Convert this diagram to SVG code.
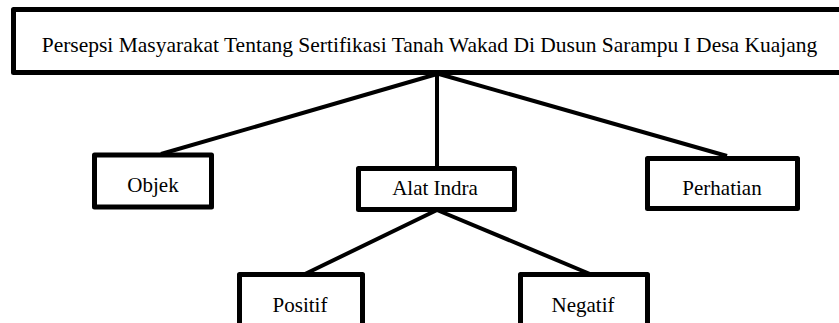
<svg xmlns="http://www.w3.org/2000/svg" width="839" height="323" viewBox="0 0 839 323">
<style>
.box{fill:#fff;stroke:#000;stroke-width:5;stroke-linejoin:round}
.lbl{font-family:"Liberation Serif","Times New Roman",serif;font-size:21px;fill:#000;text-anchor:middle}
.title{font-size:21.5px}
.con{stroke:#000;stroke-width:4;fill:none;stroke-linecap:butt}
</style>
<rect width="839" height="323" fill="#fff"/>
<g id="connectors">
<line class="con" x1="437" y1="74" x2="161" y2="154"/>
<line class="con" x1="437" y1="74" x2="437" y2="167"/>
<line class="con" x1="439" y1="74" x2="727" y2="156"/>
<line class="con" x1="437" y1="210" x2="305" y2="274"/>
<line class="con" x1="437" y1="210" x2="590" y2="274"/>
</g>
<g id="root">
<rect class="box" x="13.5" y="9.5" width="830" height="63"/>
<text class="lbl title" x="429.5" y="52">Persepsi Masyarakat Tentang Sertifikasi Tanah Wakad Di Dusun Sarampu I Desa Kuajang</text>
</g>
<g id="objek">
<rect class="box" x="94.5" y="155" width="117" height="52"/>
<text class="lbl" x="153" y="192">Objek</text>
</g>
<g id="alat-indra">
<rect class="box" x="358.5" y="168.5" width="156" height="41"/>
<text class="lbl" x="435" y="195">Alat Indra</text>
</g>
<g id="perhatian">
<rect class="box" x="647.5" y="158.5" width="150" height="50"/>
<text class="lbl" x="722" y="195">Perhatian</text>
</g>
<g id="positif">
<rect class="box" x="239.5" y="274.5" width="123" height="60"/>
<text class="lbl" x="300" y="312">Positif</text>
</g>
<g id="negatif">
<rect class="box" x="520.5" y="274.5" width="127" height="60"/>
<text class="lbl" x="583" y="312">Negatif</text>
</g>
</svg>
